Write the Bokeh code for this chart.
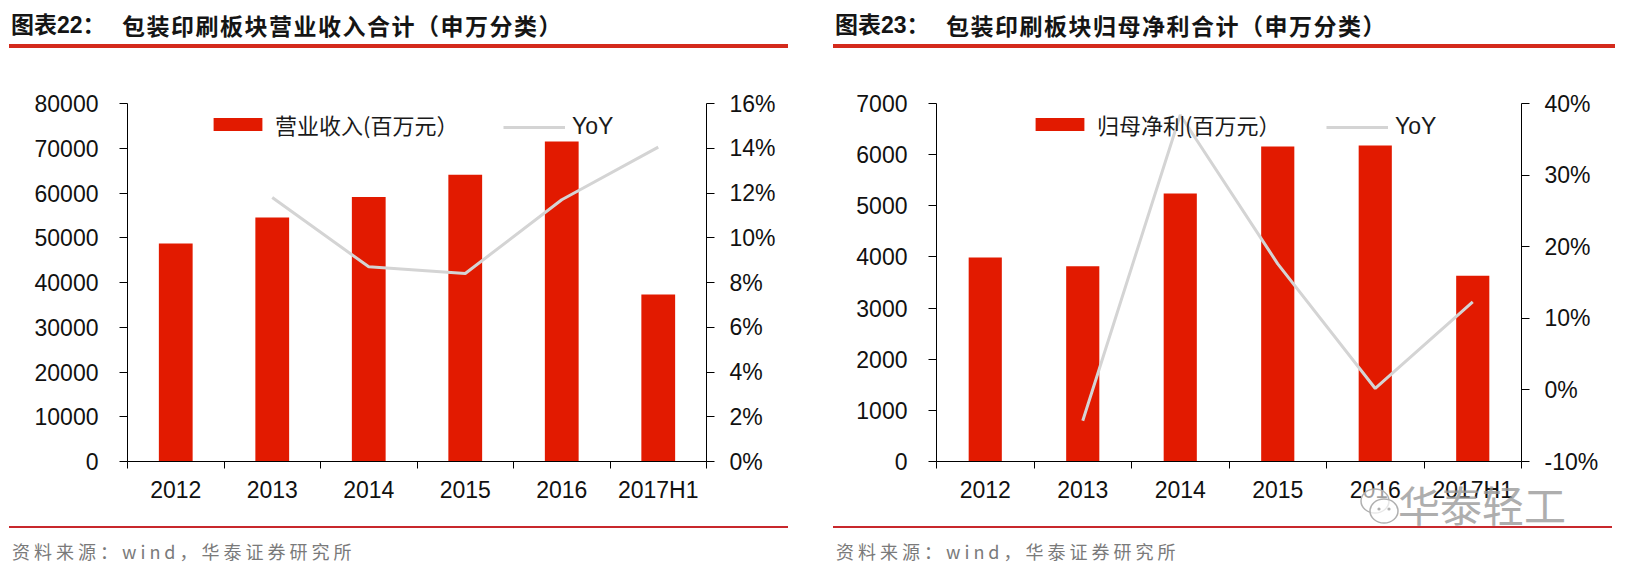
from bokeh.plotting import figure
from bokeh.models import (Range1d, LinearAxis, FixedTicker, PrintfTickFormatter,
                          Legend, LegendItem, Div, ColumnDataSource)
from bokeh.layouts import row, column
from bokeh.embed import file_html
from bokeh.resources import INLINE

# ---------------- data ----------------
categories = ["2012", "2013", "2014", "2015", "2016", "2017H1"]
revenue = [48700, 54500, 59100, 64100, 71500, 37300]          # 营业收入(百万元)
revenue_yoy = [None, 11.8, 8.7, 8.4, 11.7, 14.05]             # %
profit = [3990, 3820, 5240, 6160, 6180, 3630]                 # 归母净利(百万元)
profit_yoy = [None, -4.3, 38.4, 17.6, 0.2, 12.3]              # %

rev_ticks = list(range(0, 80001, 10000))
rev_pct_ticks = list(range(0, 17, 2))
prof_ticks = list(range(0, 7001, 1000))
prof_pct_ticks = list(range(-10, 41, 10))

title1_num = "图表22："
title1 = "包装印刷板块营业收入合计（申万分类）"
title2_num = "图表23："
title2 = "包装印刷板块归母净利合计（申万分类）"
bar_label1 = "营业收入(百万元）"
bar_label2 = "归母净利(百万元）"
line_label = "YoY"
source_text = "资料来源：wind，华泰证券研究所"
watermark = "华泰轻工"

RED = "#e21a00"
GREY = "#d4d4d4"
TICK_FONT = "Liberation Sans"


def make_chart(width, bl, br, values, yoy, ymax, yticks, pct_range, pct_ticks,
               bar_label, leg1_x, leg2_x, bar_w):
    n = len(categories)
    xs = [i + 0.5 for i in range(n)]
    p = figure(width=width, height=476, x_range=Range1d(0, n),
               y_range=Range1d(0, ymax), output_backend="svg",
               toolbar_location=None, min_border_left=bl, min_border_right=br,
               min_border_top=55, min_border_bottom=63)
    p.extra_y_ranges = {"yoy": Range1d(*pct_range)}
    p.grid.visible = False
    p.outline_line_color = None
    p.background_fill_color = "white"
    p.border_fill_color = "white"

    bar_src = ColumnDataSource(dict(x=xs, top=values))
    lx = [x for x, v in zip(xs, yoy) if v is not None]
    ly = [v for v in yoy if v is not None]
    line_src = ColumnDataSource(dict(x=lx, y=ly))

    rb = p.vbar(x="x", top="top", width=bar_w, source=bar_src,
                fill_color=RED, line_color=None)
    rl = p.line(x="x", y="y", source=line_src, y_range_name="yoy",
                line_color=GREY, line_width=3)

    # x axis: labels at centres, ticks at category boundaries
    xa = p.xaxis[0]
    xa.ticker = FixedTicker(ticks=xs, minor_ticks=list(range(n + 1)))
    xa.major_label_overrides = {x: c for x, c in zip(xs, categories)}
    xa.major_tick_line_color = None
    xa.major_tick_out = 0
    xa.major_tick_in = 0
    xa.minor_tick_in = 0
    xa.minor_tick_out = 7
    xa.minor_tick_line_color = "black"
    xa.axis_line_color = "black"
    xa.major_label_standoff = 8
    xa.major_label_text_font = TICK_FONT
    xa.major_label_text_font_size = "23px"
    xa.major_label_text_color = "#111111"

    ya = p.yaxis[0]
    ya.ticker = FixedTicker(ticks=yticks, minor_ticks=[])
    ya.formatter = PrintfTickFormatter(format="%d")
    ra = LinearAxis(y_range_name="yoy", ticker=FixedTicker(ticks=pct_ticks, minor_ticks=[]),
                    formatter=PrintfTickFormatter(format="%d%%"))
    p.add_layout(ra, "right")
    for ax, so in ((ya, 21), (ra, 15)):
        ax.axis_line_color = "black"
        ax.major_tick_line_color = "black"
        ax.major_tick_in = 0
        ax.major_tick_out = 8
        ax.minor_tick_line_color = None
        ax.major_label_standoff = so
        ax.major_label_text_font = TICK_FONT
        ax.major_label_text_font_size = "23px"
        ax.major_label_text_color = "#111111"

    common = dict(background_fill_alpha=0, border_line_color=None, padding=0,
                  margin=0, glyph_height=16, label_height=16, label_standoff=7,
                  spacing=0, label_text_color="#1a1a1a")
    leg1 = Legend(items=[LegendItem(label=bar_label, renderers=[rb])],
                  location=(leg1_x, 321), glyph_width=61,
                  label_text_font="Noto Sans CJK SC", label_text_font_size="22px",
                  **common)
    leg2 = Legend(items=[LegendItem(label=line_label, renderers=[rl])],
                  location=(leg2_x, 321), glyph_width=62,
                  label_text_font=TICK_FONT, label_text_font_size="23px",
                  **common)
    p.add_layout(leg1)
    p.add_layout(leg2)
    return p


def header(num, text, width, line_left, line_w):
    html = f"""<div style="position:relative;width:{width}px;height:40px;">
<div style="position:absolute;left:{line_left + 2}px;top:6px;font-family:'Liberation Sans','Noto Sans CJK SC';font-weight:bold;font-size:23px;line-height:23px;color:#151515;white-space:nowrap;">{num}</div>
<div style="position:absolute;left:{line_left + 113}px;top:6px;font-family:'Noto Sans CJK SC';font-weight:bold;font-size:23px;line-height:23px;letter-spacing:1.5px;color:#151515;white-space:nowrap;">{text}</div>
<div style="position:absolute;left:{line_left}px;top:36px;width:{line_w}px;height:3.5px;background:#d42a1c;"></div>
</div>"""
    return Div(text=html, width=width, height=40, margin=0)


def footer(width, line_left, line_w, mark=""):
    html = f"""<div style="position:relative;width:{width}px;height:44px;overflow:visible;">
<div style="position:absolute;left:{line_left}px;top:2px;width:{line_w}px;height:1.5px;background:#c8282c;"></div>
<div style="position:absolute;left:{line_left + 3}px;top:17px;font-family:'Noto Sans CJK SC';font-size:18px;line-height:20px;letter-spacing:4px;color:#7a7a7a;white-space:nowrap;">{source_text}</div>
{mark}
</div>"""
    return Div(text=html, width=width, height=44, margin=0, styles={"overflow": "visible"})


mark_html = f"""<svg style="position:absolute;left:530px;top:-40px;overflow:visible" width="40" height="46">
<ellipse cx="15" cy="17" rx="14" ry="12" fill="white" fill-opacity="0.6" stroke="#b0b0b0" stroke-width="1.5"/>
<ellipse cx="24" cy="27" rx="14" ry="12" fill="white" fill-opacity="0.7" stroke="#b0b0b0" stroke-width="1.5"/>
<circle cx="19" cy="25" r="1.6" fill="#b0b0b0"/><circle cx="29" cy="25" r="1.6" fill="#b0b0b0"/>
</svg>
<div style="position:absolute;left:568px;top:-41px;font-family:'Noto Sans CJK SC';font-size:42px;line-height:42px;color:#9a9a9a;opacity:0.8;white-space:nowrap;">{watermark}</div>"""

p1 = make_chart(822, 119, 124, revenue, revenue_yoy, 80000, rev_ticks, (0, 16),
                rev_pct_ticks, bar_label1, 80, 376, 0.35)
p2 = make_chart(785, 106, 94, profit, profit_yoy, 7000, prof_ticks, (-10, 40),
                prof_pct_ticks, bar_label2, 93, 390, 0.34)

left = column(header(title1_num, title1, 822, 1, 779), p1, footer(822, 1, 779))
right = column(header(title2_num, title2, 785, 3, 782), p2,
               footer(785, 3, 779, mark_html))
layout = row(left, right, margin=(8, 0, 0, 8))

open("out.html", "w").write(file_html(layout, INLINE))
